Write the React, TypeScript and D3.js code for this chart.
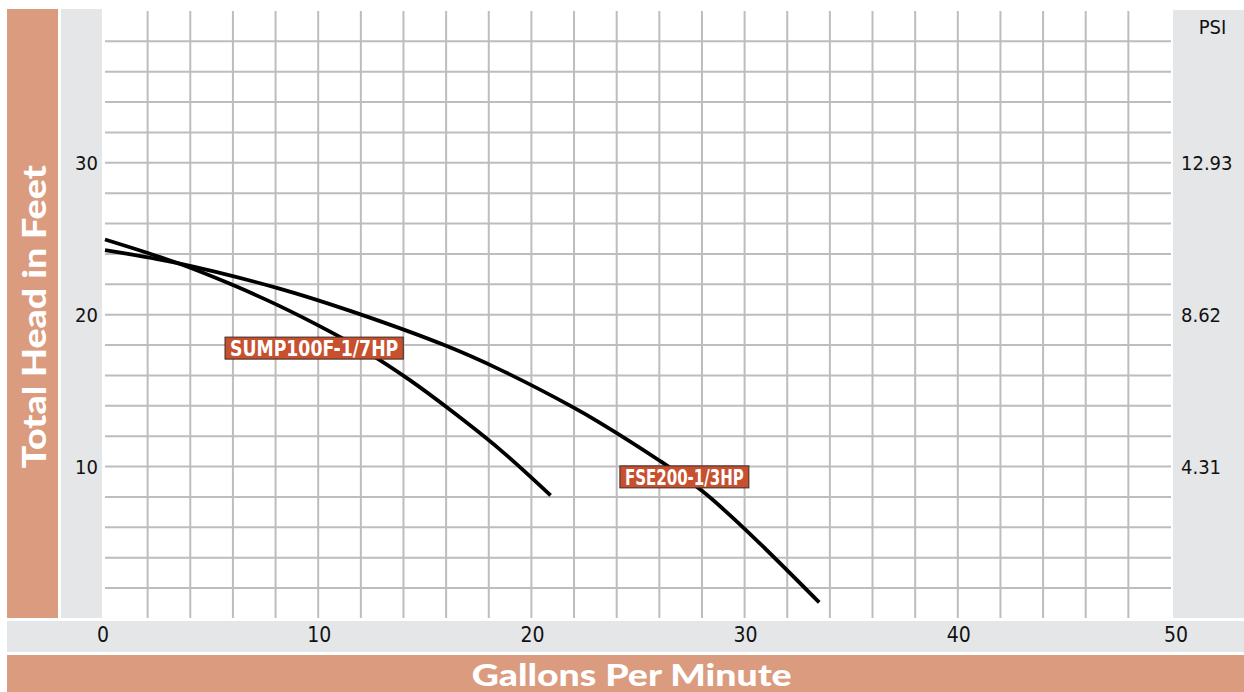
import React from "react";
import * as d3 from "d3";

const sumpCurve: [number, number][] = [
  [0, 24.95], [3.4, 23.4], [6, 21.95], [8.1, 20.63], [10.4, 19.0], [12.4, 17.44],
  [14.3, 15.69], [16.2, 13.72], [18.5, 11.15], [20.9, 8.1],
];
const fseCurve: [number, number][] = [
  [0, 24.25], [3.4, 23.4], [8.1, 21.75], [11.5, 20.25], [16.0, 17.95], [18.5, 16.4],
  [21.9, 13.95], [23.2, 12.9], [26.0, 10.4], [28.0, 8.4], [30.0, 5.9], [33.5, 1.05],
];
const xTicks = [0, 10, 20, 30, 40, 50];
const yTicks = [10, 20, 30];
const psiLabels = ["4.31", "8.62", "12.93"];
const gridX = d3.range(2, 50, 2);
const gridY = d3.range(2, 40, 2);
const seriesLabels = [
  { text: "SUMP100F-1/7HP", x0: 5.63, x1: 13.99, y: 17.8 },
  { text: "FSE200-1/3HP", x0: 24.15, x1: 30.2, y: 9.32 },
];

const ORANGE = "#db9b7f";
const GRAY = "#e5e6e8";
const LABEL = "#c7502f";
const GRID = "#bdbdc0";
const COND = "'Liberation Sans Narrow', 'DejaVu Sans Condensed', 'Roboto Condensed', sans-serif";

export default function App() {
  const x = d3.scaleLinear().domain([0, 50]).range([105, 1171]);
  const y = d3.scaleLinear().domain([0, 40]).range([618.4, 11]);
  const line = d3
    .line<[number, number]>()
    .x((d) => x(d[0]))
    .y((d) => y(d[1]))
    .curve(d3.curveCatmullRom.alpha(0.5));

  return (
    <svg
      width={1244}
      height={692}
      style={{ position: "absolute", left: 0, top: 0, background: "#fff" }}
    >
      {/* panels */}
      <rect x={7} y={9} width={51} height={609} fill={ORANGE} />
      <rect x={61} y={9} width={41} height={609} fill={GRAY} />
      <rect x={1173} y={10} width={71} height={608} fill={GRAY} />
      <rect x={7} y={621} width={1237} height={31} fill={GRAY} />
      <rect x={7} y={655} width={1237} height={37} fill={ORANGE} />

      {/* grid */}
      {gridX.map((g) => (
        <line key={"gx" + g} x1={x(g)} x2={x(g)} y1={11} y2={618} stroke={GRID} strokeWidth={2} />
      ))}
      {gridY.map((g) => (
        <line key={"gy" + g} x1={105} x2={1171} y1={y(g)} y2={y(g)} stroke={GRID} strokeWidth={2} />
      ))}

      {/* curves */}
      <path d={line(sumpCurve) || ""} fill="none" stroke="#000" strokeWidth={3.8} />
      <path d={line(fseCurve) || ""} fill="none" stroke="#000" strokeWidth={3.8} />

      {/* series labels */}
      {seriesLabels.map((l) => {
        const bx0 = x(l.x0);
        const bx1 = x(l.x1);
        const cy = y(l.y);
        return (
          <g key={l.text}>
            <rect x={bx0} y={cy - 11} width={bx1 - bx0} height={22} fill={LABEL} stroke="#3a2a25" strokeWidth={1} />
            <text
              x={(bx0 + bx1) / 2}
              y={cy + 7.8}
              textAnchor="middle"
              fill="#fff"
              fontFamily={COND}
              fontWeight="bold"
              fontSize={21.5}
              textLength={bx1 - bx0 - 10}
              lengthAdjust="spacingAndGlyphs"
            >
              {l.text}
            </text>
          </g>
        );
      })}

      {/* left tick labels */}
      {yTicks.map((t) => (
        <text key={"yl" + t} x={86.5} y={y(t) + 7.5} textAnchor="middle" fontFamily={COND} fontSize={20} fill="#111">
          {t}
        </text>
      ))}
      {/* right PSI labels */}
      {yTicks.map((t, i) => (
        <text key={"yr" + t} x={1181} y={y(t) + 7.5} textAnchor="start" fontFamily={COND} fontSize={20} fill="#111">
          {psiLabels[i]}
        </text>
      ))}
      <text x={1212.5} y={33.5} textAnchor="middle" fontFamily={COND} fontSize={20} fill="#111">
        PSI
      </text>

      {/* bottom tick labels */}
      {xTicks.map((t) => (
        <text key={"xl" + t} x={x(t) + (t === 50 ? 5 : t === 0 ? -2 : 1)} y={642.3} textAnchor="middle" fontFamily={COND} fontSize={21} fill="#111">
          {t}
        </text>
      ))}

      {/* axis titles */}
      <text
        transform={`translate(45.5, 316.7) rotate(-90)`}
        textAnchor="middle"
        fill="#fff"
        fontFamily="Lato, 'Open Sans', sans-serif"
        fontWeight={900}
        fontSize={32}
        textLength={303}
        lengthAdjust="spacingAndGlyphs"
      >
        Total Head in Feet
      </text>
      <text
        x={631.7}
        y={686}
        textAnchor="middle"
        fill="#fff"
        fontFamily="Lato, 'Open Sans', sans-serif"
        fontWeight={900}
        fontSize={30}
        textLength={320}
        lengthAdjust="spacingAndGlyphs"
      >
        Gallons Per Minute
      </text>
    </svg>
  );
}
